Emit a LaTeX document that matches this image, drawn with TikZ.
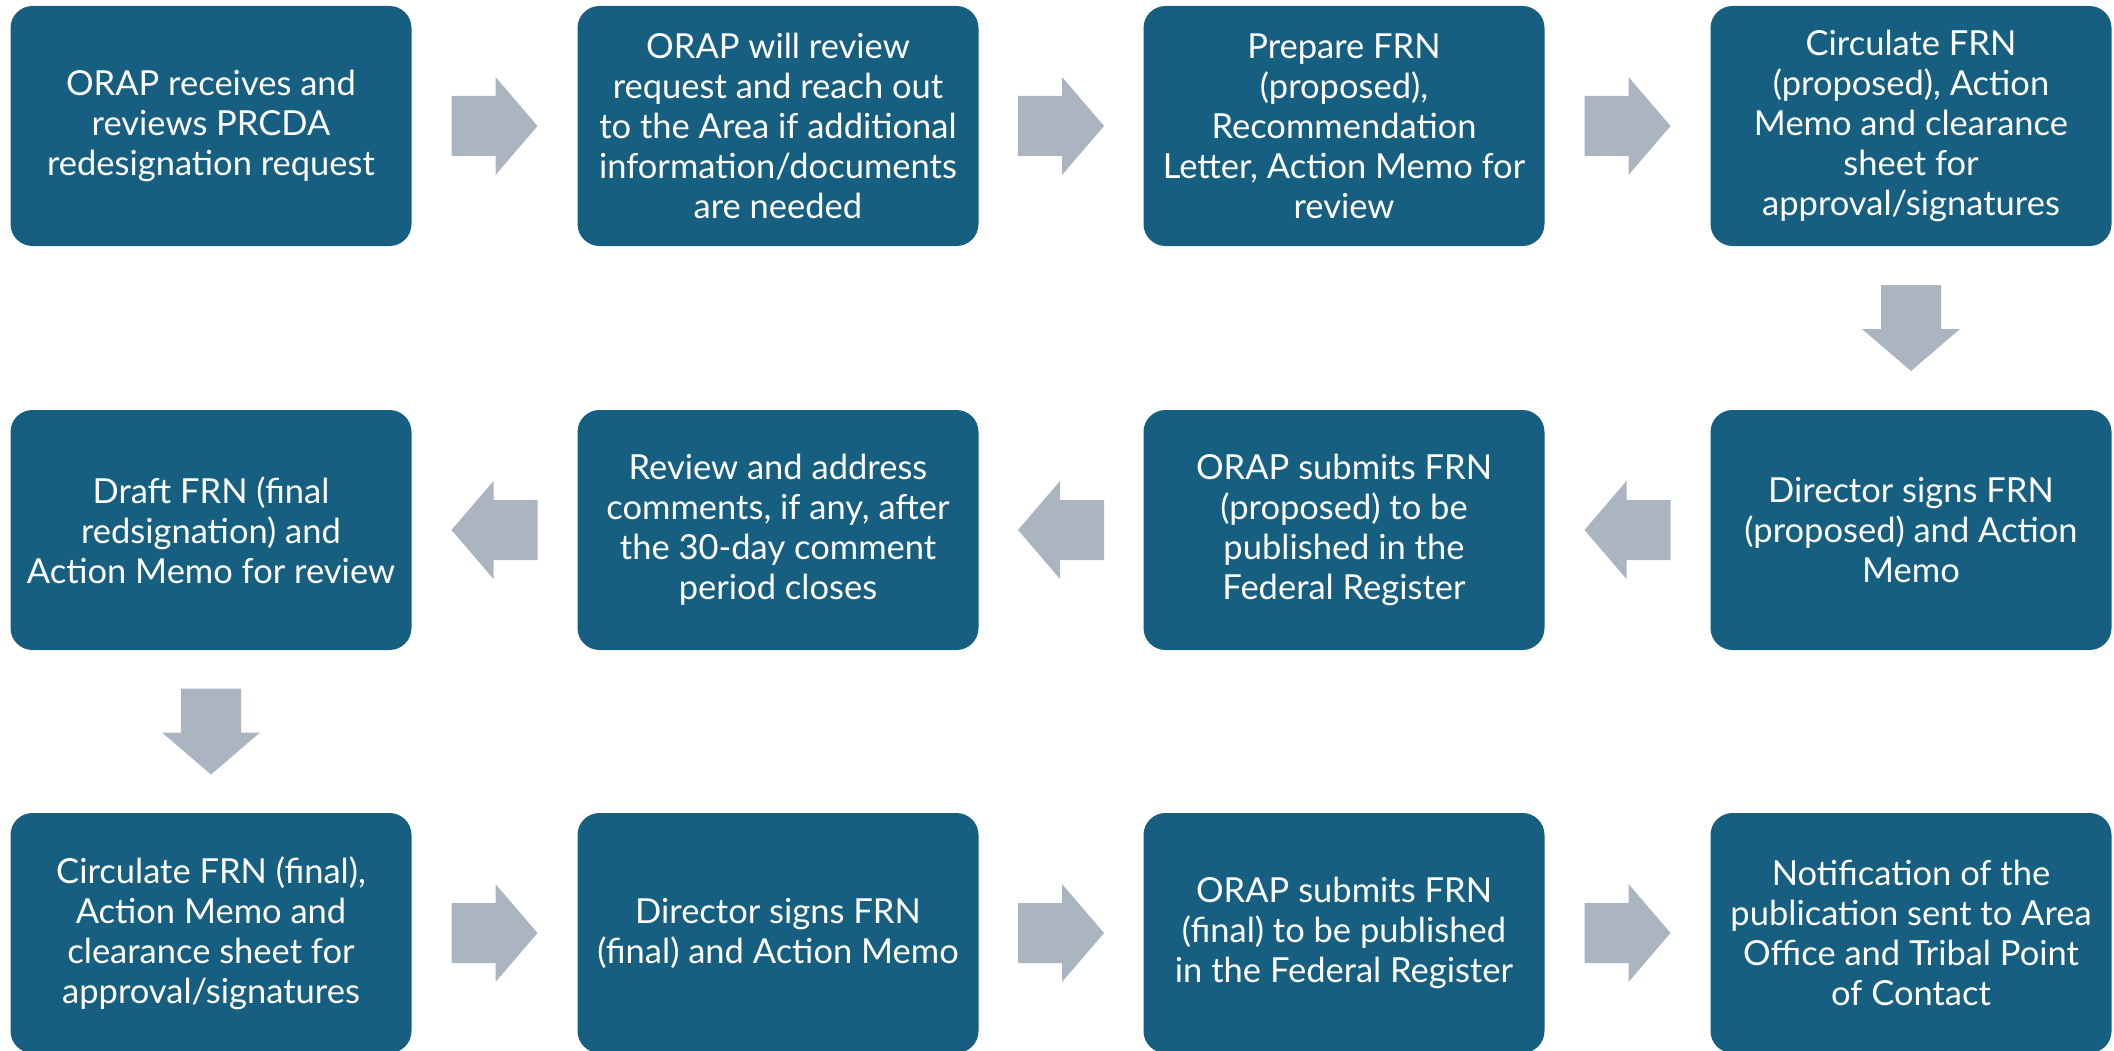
\documentclass[tikz,border=0pt]{standalone}
\usepackage{fontspec}
\setmainfont{Lato}
\usetikzlibrary{calc}
\definecolor{boxblue}{RGB}{23,95,128}
\definecolor{arrowgray}{RGB}{170,181,193}
\tikzset{
  x=1pt, y=1pt,
  stepbox/.style={rectangle, rounded corners=22pt, fill=boxblue, text=white,
    minimum width=401pt, minimum height=240pt, align=center, inner sep=0pt,
    font=\fontsize{34.5}{40}\selectfont},
  blockarrow/.pic={\fill[arrowgray] (-43,-30) -- (1,-30) -- (1,-49) -- (43,0) -- (1,49) -- (1,30) -- (-43,30) -- cycle;}
}
\begin{document}
\begin{tikzpicture}
\useasboundingbox (0,0) rectangle (2114,-1051);
% row 1
\node[stepbox] (a1) at (211,-126) {ORAP receives and\\reviews PRCDA\\redesignation request};
\node[stepbox] (a2) at (778,-126) {ORAP will review\\request and reach out\\to the Area if additional\\information/documents\\are needed};
\node[stepbox] (a3) at (1344,-126) {Prepare FRN\\(proposed),\\Recommendation\\Letter, Action Memo for\\review};
\node[stepbox] (a4) at (1911,-126) {Circulate FRN\\(proposed), Action\\Memo and clearance\\sheet for\\approval/signatures};
% row 2
\node[stepbox] (b4) at (1911,-530) {Director signs FRN\\(proposed) and Action\\Memo};
\node[stepbox] (b3) at (1344,-530) {ORAP submits FRN\\(proposed) to be\\published in the\\Federal Register};
\node[stepbox] (b2) at (778,-530) {Review and address\\comments, if any, after\\the 30-day comment\\period closes};
\node[stepbox] (b1) at (211,-530) {Draft FRN (final\\redsignation) and\\Action Memo for review};
% row 3
\node[stepbox] (c1) at (211,-933) {Circulate FRN (final),\\Action Memo and\\clearance sheet for\\approval/signatures};
\node[stepbox] (c2) at (778,-933) {Director signs FRN\\(final) and Action Memo};
\node[stepbox] (c3) at (1344,-933) {ORAP submits FRN\\(final) to be published\\in the Federal Register};
\node[stepbox] (c4) at (1911,-933) {Notification of the\\publication sent to Area\\Office and Tribal Point\\of Contact};
% arrows
\path ($(a1.east)!0.5!(a2.west)$) pic{blockarrow};
\path ($(a2.east)!0.5!(a3.west)$) pic{blockarrow};
\path ($(a3.east)!0.5!(a4.west)$) pic{blockarrow};
\path ($(a4.south)!0.5!(b4.north)$) pic[rotate=-90]{blockarrow};
\path ($(b4.west)!0.5!(b3.east)$) pic[rotate=180]{blockarrow};
\path ($(b3.west)!0.5!(b2.east)$) pic[rotate=180]{blockarrow};
\path ($(b2.west)!0.5!(b1.east)$) pic[rotate=180]{blockarrow};
\path ($(b1.south)!0.5!(c1.north)$) pic[rotate=-90]{blockarrow};
\path ($(c1.east)!0.5!(c2.west)$) pic{blockarrow};
\path ($(c2.east)!0.5!(c3.west)$) pic{blockarrow};
\path ($(c3.east)!0.5!(c4.west)$) pic{blockarrow};
\end{tikzpicture}
\end{document}
